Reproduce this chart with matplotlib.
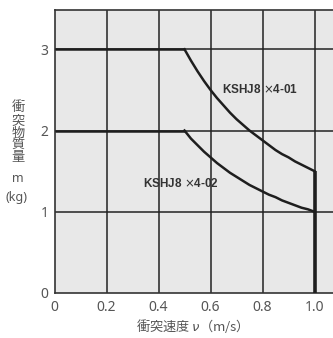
import matplotlib
matplotlib.use("Agg")
import matplotlib.pyplot as plt

plt.rcParams['font.family'] = ['Noto Sans', 'Noto Sans CJK JP', 'DejaVu Sans']

# data
v_flat = [0.0, 0.5]
m_flat_01 = [3.0, 3.0]
m_flat_02 = [2.0, 2.0]
v_curve = [0.5, 0.525, 0.55, 0.575, 0.6, 0.625, 0.65, 0.675, 0.7, 0.725, 0.75,
           0.775, 0.8, 0.825, 0.85, 0.875, 0.9, 0.925, 0.95, 0.975, 1.0]
m_curve_01 = [3.0, 2.86, 2.73, 2.61, 2.5, 2.4, 2.31, 2.22, 2.14, 2.07, 2.0,
              1.94, 1.88, 1.82, 1.76, 1.71, 1.67, 1.62, 1.58, 1.54, 1.5]
m_curve_02 = [2.0, 1.9, 1.82, 1.74, 1.67, 1.6, 1.54, 1.48, 1.43, 1.38, 1.33,
              1.29, 1.25, 1.21, 1.18, 1.14, 1.11, 1.08, 1.05, 1.03, 1.0]
v_limit = [1.0, 1.0]
m_limit = [1.5, 0.0]
xticks = [0, 0.2, 0.4, 0.6, 0.8, 1.0]
xticklabels = ['0', '0.2', '0.4', '0.6', '0.8', '1.0']
yticks = [0, 1, 2, 3]
yticklabels = ['0', '1', '2', '3']

fig = plt.figure(figsize=(3.33, 3.38), dpi=100)
ax = fig.add_axes([54.5/333, 45/338, 286/333, 283.5/338])
ax.set_facecolor('#e8e8e8')
ax.set_xlim(0, 1.1)
ax.set_ylim(0, 3.49)

for x in xticks[1:]:
    ax.axvline(x, color='#222222', lw=1.1, zorder=1)
for y in yticks[1:]:
    ax.axhline(y, color='#222222', lw=1.1, zorder=1)

lc = '#1e1e1e'
ax.plot(v_flat, m_flat_01, color=lc, lw=1.8, zorder=3, solid_capstyle='butt')
ax.plot(v_curve, m_curve_01, color=lc, lw=1.8, zorder=3)
ax.plot(v_flat, m_flat_02, color=lc, lw=1.8, zorder=3, solid_capstyle='butt')
ax.plot(v_curve, m_curve_02, color=lc, lw=1.8, zorder=3)
ax.plot(v_limit, m_limit, color=lc, lw=2.6, zorder=3, solid_capstyle='butt')

for s in ax.spines.values():
    s.set_color('#333333')
    s.set_linewidth(1.2)

ax.set_xticks(xticks)
ax.set_xticklabels(xticklabels)
ax.set_yticks(yticks)
ax.set_yticklabels(yticklabels)
ax.tick_params(length=0, labelsize=10, labelcolor='#555555')
ax.tick_params(axis='x', pad=5)
ax.tick_params(axis='y', pad=4.5)

ann_family = ['Liberation Sans', 'DejaVu Sans']
ax.text(0.646, 2.51, 'KSHJ8 $\\times$4-01', fontsize=8.5, fontweight='bold', color='#333333',
        va='center', ha='left', zorder=4, family=ann_family)
ax.text(0.34, 1.35, 'KSHJ8 $\\times$4-02', fontsize=8.5, fontweight='bold', color='#333333',
        va='center', ha='left', zorder=4, family=ann_family)

fig.text(18/333, 1 - 133/338, '衝\n突\n物\n質\n量', fontsize=9.5, color='#555555',
         ha='center', va='center', linespacing=0.95,
         family=['Noto Sans CJK JP', 'DejaVu Sans'])
fig.text(18/333, 1 - 179/338, 'm', fontsize=9, color='#555555', ha='center', va='center')
fig.text(17/333, 1 - 197/338, '(kg)', fontsize=9, color='#555555', ha='center', va='center')

fig.text(189/333, 1 - 326/338, '衝突速度 $\\nu$（m/s）', fontsize=9.5, color='#555555',
         ha='center', va='center', family=['Noto Sans CJK JP', 'DejaVu Sans'])

fig.savefig('out.png', dpi=100)
